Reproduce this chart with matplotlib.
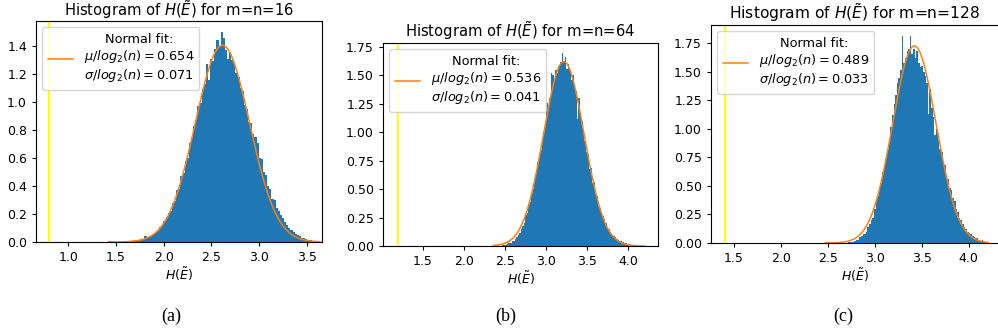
import numpy as np
import matplotlib
matplotlib.use("Agg")
import matplotlib.pyplot as plt

# --- data ---
n_values = [16, 64, 128]
mu_over_log = [0.654, 0.536, 0.489]
sigma_over_log = [0.071, 0.041, 0.033]
bound_x = [0.8, 1.2, 1.4]          # yellow vertical line
bin_lo = [1.42, 2.36, 2.47]        # histogram range, 100 bins each
bin_hi = [3.64, 4.20, 4.21]

heights_a = [
    0.004, 0.0, 0.0, 0.0, 0.0, 0.002, 0.0, 0.0, 0.002, 0.004,
    0.006, 0.004, 0.008, 0.010, 0.012, 0.018, 0.024, 0.042, 0.038, 0.034,
    0.047, 0.060, 0.072, 0.080, 0.104, 0.118, 0.150, 0.176, 0.204, 0.222,
    0.280, 0.290, 0.370, 0.380, 0.470, 0.490, 0.580, 0.600, 0.710, 0.740,
    0.830, 0.870, 0.970, 0.990, 1.090, 1.130, 1.270, 1.160, 1.310, 1.290,
    1.380, 1.440, 1.400, 1.500, 1.460, 1.370, 1.310, 1.360, 1.300, 1.280,
    1.210, 1.180, 1.100, 1.080, 0.980, 0.950, 0.860, 0.850, 0.770, 0.750,
    0.710, 0.600, 0.590, 0.500, 0.480, 0.400, 0.380, 0.310, 0.300, 0.240,
    0.220, 0.190, 0.170, 0.140, 0.120, 0.100, 0.085, 0.070, 0.058, 0.048,
    0.040, 0.032, 0.026, 0.020, 0.016, 0.012, 0.010, 0.006, 0.004, 0.003,
]
heights_b = [
    0.0, 0.0, 0.0, 0.0, 0.003, 0.004, 0.006, 0.008, 0.012, 0.016,
    0.024, 0.030, 0.040, 0.048, 0.060, 0.075, 0.100, 0.115, 0.150, 0.175,
    0.200, 0.270, 0.290, 0.370, 0.390, 0.470, 0.500, 0.600, 0.640, 0.740,
    0.780, 0.840, 0.960, 1.000, 1.100, 1.260, 1.200, 1.300, 1.520, 1.500,
    1.470, 1.550, 1.520, 1.580, 1.620, 1.700, 1.630, 1.660, 1.560, 1.600,
    1.550, 1.460, 1.500, 1.410, 1.360, 1.120, 1.300, 1.160, 1.100, 1.000,
    0.920, 0.830, 0.810, 0.680, 0.690, 0.550, 0.560, 0.460, 0.440, 0.350,
    0.330, 0.280, 0.260, 0.240, 0.200, 0.170, 0.150, 0.120, 0.100, 0.090,
    0.075, 0.060, 0.055, 0.045, 0.040, 0.035, 0.030, 0.022, 0.018, 0.014,
    0.010, 0.012, 0.006, 0.006, 0.004, 0.003, 0.002, 0.0, 0.002, 0.001,
]
heights_c = [
    0.0, 0.0, 0.0, 0.0, 0.0, 0.0, 0.0, 0.0, 0.0, 0.0,
    0.0, 0.0, 0.004, 0.0, 0.006, 0.010, 0.006, 0.012, 0.020, 0.024,
    0.030, 0.050, 0.060, 0.080, 0.080, 0.100, 0.140, 0.170, 0.200, 0.220,
    0.300, 0.370, 0.410, 0.470, 0.530, 0.620, 0.680, 0.740, 0.820, 0.900,
    1.020, 1.120, 1.220, 1.300, 1.400, 1.450, 1.520, 1.810, 1.580, 1.620,
    1.680, 1.700, 1.810, 1.660, 1.700, 1.620, 1.680, 1.580, 1.540, 1.550,
    1.500, 1.460, 1.400, 1.130, 1.350, 1.180, 1.100, 0.950, 1.000, 0.900,
    0.820, 0.800, 0.700, 0.680, 0.580, 0.560, 0.480, 0.460, 0.390, 0.370,
    0.300, 0.270, 0.220, 0.200, 0.170, 0.140, 0.120, 0.100, 0.085, 0.075,
    0.060, 0.050, 0.040, 0.042, 0.030, 0.020, 0.025, 0.012, 0.010, 0.006,
]
all_heights = [heights_a, heights_b, heights_c]
x_ticks = [[1.0, 1.5, 2.0, 2.5, 3.0, 3.5], [1.5, 2.0, 2.5, 3.0, 3.5, 4.0], [1.5, 2.0, 2.5, 3.0, 3.5, 4.0]]
y_ticks = [np.arange(0, 1.41, 0.2), np.arange(0, 1.76, 0.25), np.arange(0, 1.76, 0.25)]
captions = ["(a)", "(b)", "(c)"]

# --- layout (pixels of the 998x335 picture) ---
W, H = 998, 335
boxes = [(36, 21, 322, 242), (383, 43, 658, 246), (711, 25, 999, 243)]   # left, top, right, bottom
xlims = [(0.66, 3.66), (1.02, 4.36), (1.255, 4.325)]
ylims = [(0, 1.578), (0, 1.785), (0, 1.91)]
title_size = [10.6, 10.6, 11.2]
title_pad = [0.5, 4.5, 4.0]
caption_x = [171, 506, 843]

fig = plt.figure(figsize=(W / 100, H / 100), dpi=100)

for k in range(3):
    l, t, r, b = boxes[k]
    ax = fig.add_axes([l / W, 1 - b / H, (r - l) / W, (b - t) / H])

    edges = np.linspace(bin_lo[k], bin_hi[k], len(all_heights[k]) + 1)
    ax.hist(edges[:-1], bins=edges, weights=all_heights[k], color="C0")

    log_n = np.log2(n_values[k])
    mu = mu_over_log[k] * log_n
    sigma = sigma_over_log[k] * log_n
    xs = np.linspace(bin_lo[k], bin_hi[k], 300)
    pdf = np.exp(-0.5 * ((xs - mu) / sigma) ** 2) / (sigma * np.sqrt(2 * np.pi))
    label = "Normal fit:\n$\\mu/log_2(n) = %.3f$\n$\\sigma/log_2(n) = %.3f$" % (mu_over_log[k], sigma_over_log[k])
    ax.plot(xs, pdf, color="C1", lw=1.1, label=label)
    ax.axvline(bound_x[k], color="yellow", lw=1.5)

    ax.set_xlim(*xlims[k])
    ax.set_ylim(*ylims[k])
    ax.set_xticks(x_ticks[k])
    ax.set_yticks(y_ticks[k])
    if k == 0:
        ax.set_yticklabels(["%.1f" % v for v in y_ticks[k]])
    else:
        ax.set_yticklabels(["%.2f" % v for v in y_ticks[k]])
    ax.tick_params(labelsize=9, length=3)
    ax.set_xlabel("$H(\\tilde{E})$", fontsize=9, labelpad=1)
    ax.set_title("Histogram of $H(\\tilde{E})$ for m=n=%d" % n_values[k],
                 fontsize=title_size[k], pad=title_pad[k])

    leg = ax.legend(loc="upper left", fontsize=9.3, handlelength=2.0)
    for txt in leg.get_texts():
        txt.set_multialignment("center")

    fig.text(caption_x[k] / W, 1 - 316 / H, captions[k], family="Liberation Serif",
             fontsize=13, ha="center", va="center")

fig.savefig("out.png", dpi=100)
